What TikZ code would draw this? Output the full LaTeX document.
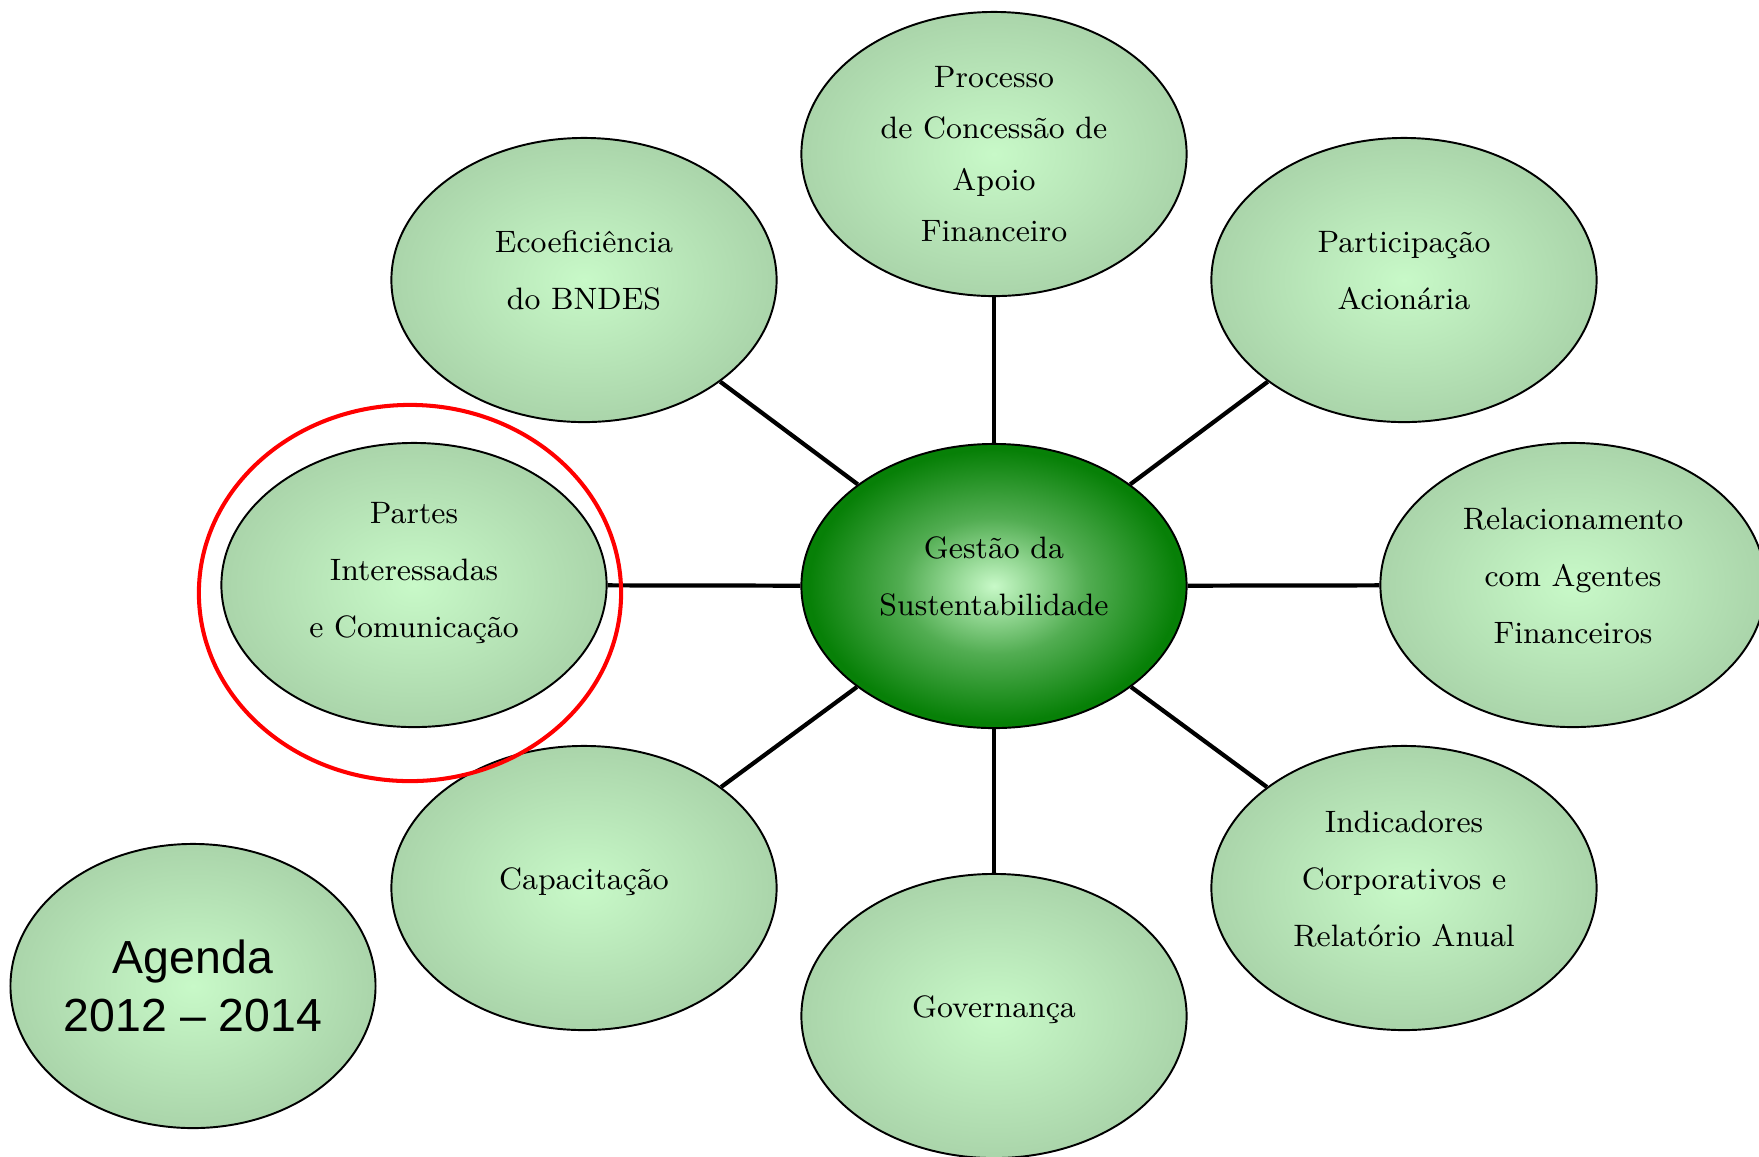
\documentclass[tikz,border=0pt]{standalone}
\usepackage{fontspec}
\newfontfamily\agendafont{Liberation Sans}
\usetikzlibrary{shapes.geometric,positioning}

\definecolor{folhaclara}{HTML}{C8F9C8}
\definecolor{folhaborda}{HTML}{A3CCA3}
\definecolor{verdemeio}{HTML}{52AD52}
\definecolor{verdeforte}{HTML}{078007}

\pgfdeclareradialshading{bolhaclara}{\pgfpoint{0bp}{0bp}}{color(0bp)=(folhaclara); color(31bp)=(folhaborda); color(50bp)=(folhaborda)}
\pgfdeclareradialshading{bolhaescura}{\pgfpoint{0bp}{0bp}}{color(0bp)=(folhaclara); color(12bp)=(verdemeio); color(24bp)=(verdeforte); color(50bp)=(verdeforte)}

\begin{document}
\begin{tikzpicture}[x=0.01cm, y=-0.01cm, very thick,
    bolha/.style={ellipse, draw=black, line width=0.55pt, shade, shading=bolhaclara,
                  minimum width=3.85cm, minimum height=2.84cm, inner sep=0pt,
                  align=center, font=\fontsize{8.8}{16.2}\selectfont, text depth=0.19cm},
    nucleo/.style={bolha, shading=bolhaescura},
    destaque/.style={ellipse, draw=red, line width=1.15pt, minimum width=4.22cm, minimum height=3.76cm}]
    \useasboundingbox (0,0) rectangle (1759,1156);

    \node[nucleo]  (gestao)    at (994,586)  {Gestão da\\Sustentabilidade};
    \node[bolha, font=\fontsize{8.8}{14.6}\selectfont, text depth=-0.07cm]
                   (processo)  at (994,154)  {Processo\\de Concessão de\\Apoio\\Financeiro};
    \node[bolha]   (eco)       at (584,280)  {Ecoeficiência\\do BNDES};
    \node[bolha]   (partic)    at (1404,280) {Participação\\Acionária};
    \node[bolha, text depth=0.30cm]
                   (partes)    at (414,585)  {Partes\\Interessadas\\e Comunicação};
    \node[bolha]   (relac)     at (1573,585) {Relacionamento\\com Agentes\\Financeiros};
    \node[bolha]   (capac)     at (584,888)  {Capacitação};
    \node[bolha]   (indic)     at (1404,888) {Indicadores\\Corporativos e\\Relatório Anual};
    \node[bolha]   (gover)     at (994,1016) {Governança};
    \node[bolha, minimum width=3.62cm, text depth=0pt, font=\agendafont\fontsize{13.2}{16.5}\selectfont]
                   (agenda)    at (193,986)  {Agenda\\2012 – 2014};

    \path[-]   (gestao)  edge (processo)
                         edge (eco)
                         edge (partic)
                         edge (partes)
                         edge (relac)
                         edge (capac)
                         edge (indic)
                         edge (gover);

    \node[destaque] (realce) at (410,593) {};
\end{tikzpicture}
\end{document}
